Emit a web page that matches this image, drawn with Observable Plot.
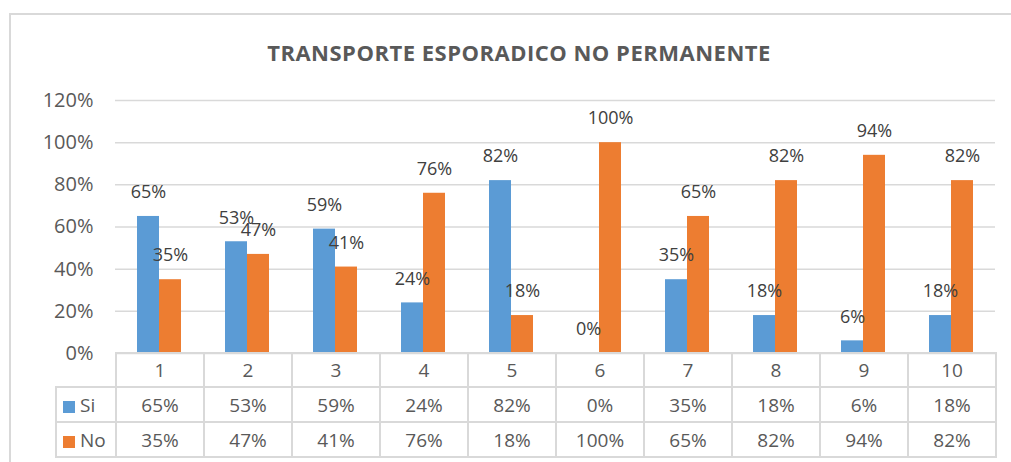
<!DOCTYPE html>
<html>
<head>
<meta charset="utf-8">
<script src="https://cdn.jsdelivr.net/npm/d3@7"></script>
<script src="https://cdn.jsdelivr.net/npm/@observablehq/plot@0.6"></script>
<style>
  html, body { margin: 0; padding: 0; background: #fff; }
  #wrap { position: relative; width: 1011px; height: 462px; overflow: hidden; background: #fff; font-family: 'Open Sans', sans-serif; }
  #frame { position: absolute; left: 9px; top: 13px; width: 1100px; height: 600px; border: 2px solid #d9d9d9; box-sizing: border-box; }
  #title { position: absolute; left: 0; top: 36px; width: 1038px; height: 32px; line-height: 32px; text-align: center; font-weight: bold; font-size: 22px; letter-spacing: 0.5px; color: #595959; }
  #chart { position: absolute; left: 0; top: 80px; }
  #table { position: absolute; left: 0; top: 352px; }
  #table table { border-collapse: collapse; table-layout: fixed; font-size: 19px; color: #595959; }
  #table td { border: 2px solid #d9d9d9; text-align: center; padding: 0; white-space: nowrap; }
  #table td.blank { border-top: none; border-left: none; }
  #table td.lab { text-align: left; }
  .sw { display: inline-block; width: 12px; height: 12px; margin-left: 6px; margin-right: 5px; vertical-align: -1px; }
</style>
</head>
<body>
<div id="wrap">
  <div id="frame"></div>
  <div id="title"></div>
  <div id="chart"></div>
  <div id="table"></div>
</div>
<script>
const title = "TRANSPORTE ESPORADICO NO PERMANENTE";
const categories = ["1", "2", "3", "4", "5", "6", "7", "8", "9", "10"];
const series = ["Si", "No"];
const siValues = [0.65, 0.53, 0.59, 0.24, 0.82, 0.00, 0.35, 0.18, 0.06, 0.18];
const noValues = [0.35, 0.47, 0.41, 0.76, 0.18, 1.00, 0.65, 0.82, 0.94, 0.82];
const yTicks = [0, 0.2, 0.4, 0.6, 0.8, 1.0, 1.2];
const colors = ["#5B9BD5", "#ED7D31"];

const pct = d3.format(".0%");
const data = categories.flatMap((c, i) => [
  {cat: c, series: "Si", value: siValues[i]},
  {cat: c, series: "No", value: noValues[i]}
]);

document.getElementById("title").textContent = title;

const chart = Plot.plot({
  width: 1011,
  height: 283,
  marginTop: 20,
  marginBottom: 10,
  marginLeft: 112,
  marginRight: 14,
  style: {fontFamily: "'Open Sans', sans-serif", fontSize: "20px", color: "#595959", background: "transparent", overflow: "visible"},
  fx: {domain: categories, padding: 0, axis: null, label: null},
  x: {domain: series, paddingInner: 0, paddingOuter: 0.92, axis: null, label: null},
  y: {domain: [0, 1.2], label: null},
  color: {domain: series, range: colors},
  marks: [
    Plot.gridY(yTicks, {stroke: "#d9d9d9", strokeOpacity: 1, strokeWidth: 1.5}),
    Plot.axisY(yTicks, {tickFormat: pct, tickSize: 0, tickPadding: 22, fontSize: 20, fill: "#595959", label: null}),
    Plot.barY(data, {fx: "cat", x: "series", y: "value", fill: "series"}),
    Plot.text(data, {fx: "cat", x: "series", y: "value", text: d => pct(d.value), dy: -24, fontSize: 18, fill: "#404040"})
  ]
});
document.getElementById("chart").appendChild(chart);

// Data table aligned to the fx band scale
const fxs = chart.scale("fx");
const firstLeft = 55;
const bw = fxs.bandwidth;
const colWidths = [fxs.apply(categories[0]) - firstLeft, ...categories.map(() => bw)];
const tbl = d3.select("#table").style("left", firstLeft + "px")
  .append("table")
  .style("width", d3.sum(colWidths) + "px");
tbl.append("colgroup").selectAll("col").data(colWidths).join("col").style("width", d => d + "px");

const head = tbl.append("tr").style("height", "34px");
head.append("td").attr("class", "blank");
head.selectAll("td.c").data(categories).join("td").attr("class", "c").text(d => d);

const rows = [
  {name: "Si", color: colors[0], values: siValues},
  {name: "No", color: colors[1], values: noValues}
];
rows.forEach(r => {
  const tr = tbl.append("tr").style("height", "35px");
  const lab = tr.append("td").attr("class", "lab");
  lab.append("span").attr("class", "sw").style("background", r.color);
  lab.append("span").text(r.name);
  tr.selectAll("td.v").data(r.values).join("td").attr("class", "v").text(d => pct(d));
});
</script>
</body>
</html>
